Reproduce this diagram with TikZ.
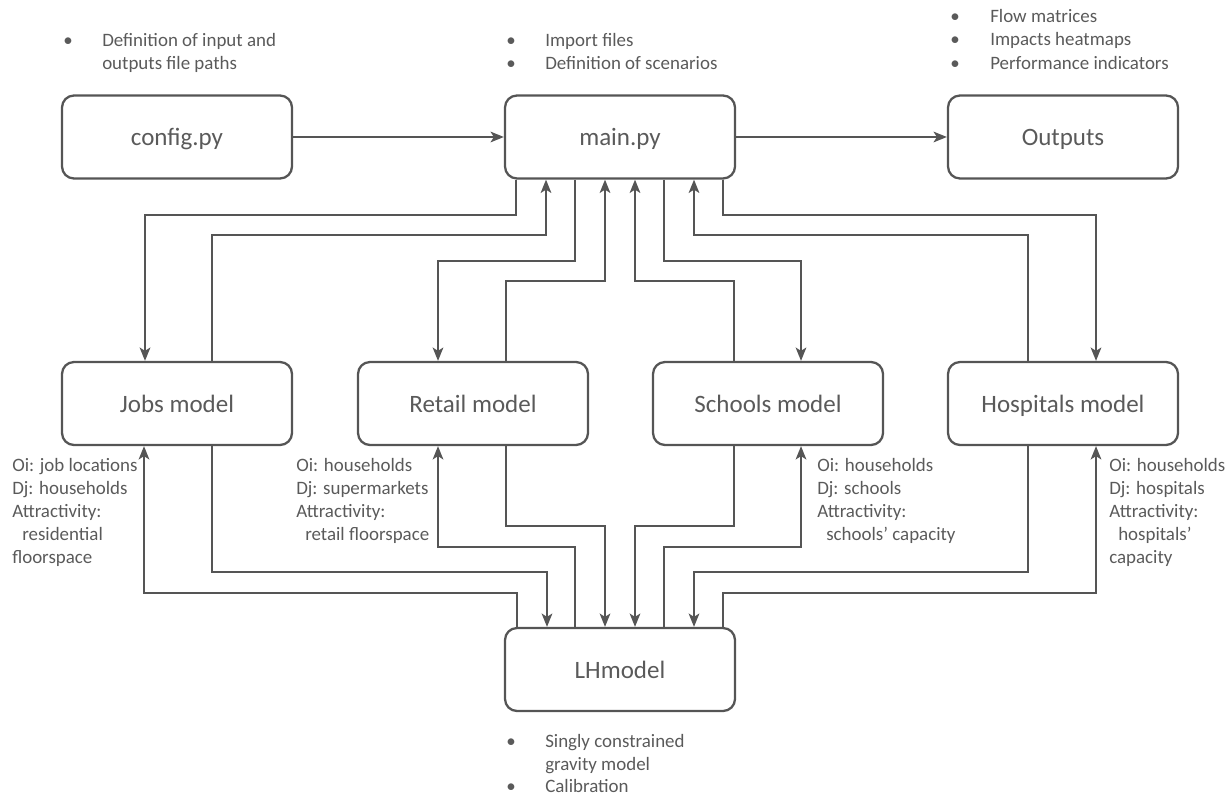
\documentclass[tikz,border=0pt]{standalone}
\usepackage{fontspec}
\setmainfont{Carlito}
\usetikzlibrary{arrows.meta,calc}
\definecolor{ln}{HTML}{555555}
\definecolor{tx}{HTML}{5A5A5A}
\begin{document}
\begin{tikzpicture}[x=0.75pt,y=-0.75pt,
 box/.style={draw=ln, line width=1.7pt, rounded corners=9pt, minimum width=172.5pt, minimum height=62.25pt, inner sep=0pt, text=tx, text height=13.8pt, text depth=1pt, font=\fontsize{18.75}{22}\selectfont},
 conn/.style={draw=ln, line width=1.4pt, -{Stealth[length=10pt,width=8pt,inset=2.5pt]}},
 lbl/.style={text=tx, font=\fontsize{14.2}{17.25}\selectfont, anchor=base west, inner sep=0pt}]
\useasboundingbox (0,0) rectangle (1231,795);

% boxes
\node[box] (config) at (177,137) {config.py};
\node[box] (main) at (620,137) {main.py};
\node[box] (out) at (1063,137) {Outputs};
\node[box] (jobs) at (177,403.5) {Jobs model};
\node[box] (retail) at (473,403.5) {Retail model};
\node[box] (schools) at (768,403.5) {Schools model};
\node[box] (hosp) at (1063,403.5) {Hospitals model};
\node[box] (lh) at (620,669.5) {LHmodel};

% top connectors
\draw[conn] (config) -- (main);
\draw[conn] (main) -- (out);

% main <-> models
\draw[conn] ($(main.south)+(-104,0)$) -- ++(0,35) -| ($(jobs.north)+(-32,0)$);
\draw[conn] ($(jobs.north)+(35,0)$) -- ++(0,-126) -| ($(main.south)+(-74,0)$);
\draw[conn] ($(main.south)+(-45,0)$) -- ++(0,81) -| ($(retail.north)+(-35,0)$);
\draw[conn] ($(retail.north)+(33,0)$) -- ++(0,-80) -| ($(main.south)+(-15,0)$);
\draw[conn] ($(schools.north)+(-34,0)$) -- ++(0,-80) -| ($(main.south)+(15,0)$);
\draw[conn] ($(main.south)+(44,0)$) -- ++(0,81) -| ($(schools.north)+(33,0)$);
\draw[conn] ($(hosp.north)+(-35,0)$) -- ++(0,-126) -| ($(main.south)+(74,0)$);
\draw[conn] ($(main.south)+(103,0)$) -- ++(0,35) -| ($(hosp.north)+(33,0)$);

% models <-> LHmodel
\draw[conn] ($(jobs.south)+(35,0)$) -- ++(0,126) -| ($(lh.north)+(-73,0)$);
\draw[conn] ($(lh.north)+(-103,0)$) -- ++(0,-34) -| ($(jobs.south)+(-33,0)$);
\draw[conn] ($(retail.south)+(33,0)$) -- ++(0,80) -| ($(lh.north)+(-15,0)$);
\draw[conn] ($(lh.north)+(-45,0)$) -- ++(0,-80) -| ($(retail.south)+(-35,0)$);
\draw[conn] ($(schools.south)+(-34,0)$) -- ++(0,80) -| ($(lh.north)+(15,0)$);
\draw[conn] ($(lh.north)+(44,0)$) -- ++(0,-80) -| ($(schools.south)+(33,0)$);
\draw[conn] ($(hosp.south)+(-35,0)$) -- ++(0,126) -| ($(lh.north)+(74,0)$);
\draw[conn] ($(lh.north)+(103,0)$) -- ++(0,-34) -| ($(hosp.south)+(33,0)$);

% top notes
\node[lbl] (cb1) at (63,47) {•};
\node[lbl] (ct1) at (102,47) {Definition of input and};
\node[lbl] (ct2) at (102,70) {outputs file paths};
\node[lbl] (mb1) at (506,47) {•};
\node[lbl] (mt1) at (545,47) {Import files};
\node[lbl] (mb2) at (506,70) {•};
\node[lbl] (mt2) at (545,70) {Definition of scenarios};
\node[lbl] (ob1) at (950,23) {•};
\node[lbl] (ot1) at (990,23) {Flow matrices};
\node[lbl] (ob2) at (950,46) {•};
\node[lbl] (ot2) at (990,46) {Impacts heatmaps};
\node[lbl] (ob3) at (950,70) {•};
\node[lbl] (ot3) at (990,70) {Performance indicators};

% model notes
\node[lbl] (j1) at (12,471) {Oi: job locations};
\node[lbl] (j2) at (12,494) {Dj: households};
\node[lbl] (j3) at (12,517) {Attractivity:};
\node[lbl] (j4) at (22,540) {residential};
\node[lbl] (j5) at (12,563) {floorspace};

\node[lbl] (r1) at (296,471) {Oi: households};
\node[lbl] (r2) at (296,494) {Dj: supermarkets};
\node[lbl] (r3) at (296,517) {Attractivity:};
\node[lbl] (r4) at (305,540) {retail floorspace};

\node[lbl] (s1) at (817,471) {Oi: households};
\node[lbl] (s2) at (817,494) {Dj: schools};
\node[lbl] (s3) at (817,517) {Attractivity:};
\node[lbl] (s4) at (826,540) {schools’ capacity};

\node[lbl] (h1) at (1109,471) {Oi: households};
\node[lbl] (h2) at (1109,494) {Dj: hospitals};
\node[lbl] (h3) at (1109,517) {Attractivity:};
\node[lbl] (h4) at (1118,540) {hospitals’};
\node[lbl] (h5) at (1109,563) {capacity};

% bottom notes
\node[lbl] (lb1) at (506,747) {•};
\node[lbl] (lt1) at (545,747) {Singly constrained};
\node[lbl] (lt2) at (545,770) {gravity model};
\node[lbl] (lb2) at (506,792) {•};
\node[lbl] (lt3) at (545,792) {Calibration};
\end{tikzpicture}
\end{document}
